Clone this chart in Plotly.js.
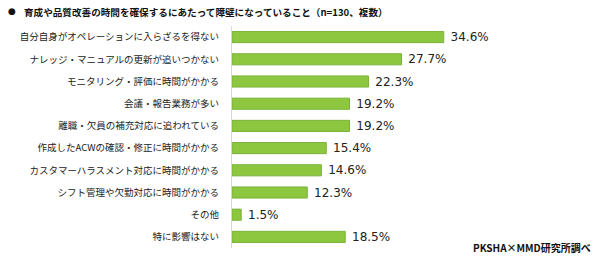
<!DOCTYPE html>
<html>
<head>
<meta charset="utf-8">
<script src="https://cdn.plot.ly/plotly-3.0.1.min.js"></script>
<style>
  html, body { margin: 0; padding: 0; background: #ffffff; }
  #chart { width: 600px; height: 262px; }
</style>
</head>
<body>
<div id="chart"></div>
<script>
// Reasons that get in the way of training / quality-improvement time (n=130, multiple answers)
const categories = [
  '自分自身がオペレーションに入らざるを得ない',
  'ナレッジ・マニュアルの更新が追いつかない',
  'モニタリング・評価に時間がかかる',
  '会議・報告業務が多い',
  '離職・欠員の補充対応に追われている',
  '作成したACWの確認・修正に時間がかかる',
  'カスタマーハラスメント対応に時間がかかる',
  'シフト管理や欠勤対応に時間がかかる',
  'その他',
  '特に影響はない'
];
const values = [34.6, 27.7, 22.3, 19.2, 19.2, 15.4, 14.6, 12.3, 1.5, 18.5];
const valueLabels = values.map(v => ' ' + v.toFixed(1) + '%');

const titleText = '育成や品質改善の時間を確保するにあたって障壁になっていること（n=130、複数）';
const sourceText = 'PKSHA×MMD研究所調べ';

const jpFont = '"Noto Sans CJK JP", "Noto Sans", sans-serif';

const trace = {
  type: 'bar',
  orientation: 'h',
  y: categories,
  x: values,
  width: 0.5,
  marker: { color: '#8dc63f', line: { color: '#7ab23a', width: 1 } },
  text: valueLabels,
  textposition: 'outside',
  constraintext: 'none',
  cliponaxis: false,
  textfont: { family: '"DejaVu Sans", sans-serif', size: 12, color: '#222222' },
  hoverinfo: 'none'
};

const layout = {
  width: 600,
  height: 262,
  margin: { l: 232, r: 62, t: 26, b: 14 },
  paper_bgcolor: '#ffffff',
  plot_bgcolor: '#ffffff',
  showlegend: false,
  bargap: 0.5,
  xaxis: {
    range: [0, 50],
    showgrid: false,
    zeroline: false,
    showticklabels: false,
    showline: false,
    fixedrange: true
  },
  yaxis: {
    autorange: 'reversed',
    type: 'category',
    showgrid: false,
    zeroline: false,
    showline: true,
    linecolor: '#d9d9d9',
    linewidth: 1,
    ticks: '',
    ticklabelstandoff: 10,
    tickfont: { family: jpFont, size: 9.5, color: '#222222' },
    fixedrange: true
  },
  annotations: [
    {
      text: '●',
      xref: 'paper', yref: 'paper',
      x: -232 / 306 + 6 / 306, y: 1, yshift: 15,
      xanchor: 'left', yanchor: 'middle',
      showarrow: false,
      font: { family: '"DejaVu Sans", sans-serif', size: 9, color: '#111111' }
    },
    {
      text: '<b>' + titleText + '</b>',
      xref: 'paper', yref: 'paper',
      x: -232 / 306 + 22 / 306, y: 1, yshift: 14,
      xanchor: 'left', yanchor: 'middle',
      showarrow: false,
      font: { family: jpFont, size: 9.6, color: '#111111' }
    },
    {
      text: '<b>' + sourceText + '</b>',
      xref: 'paper', yref: 'paper',
      x: 1 + 55 / 306, y: 0, yshift: 1,
      xanchor: 'right', yanchor: 'middle',
      showarrow: false,
      font: { family: jpFont, size: 10, color: '#111111' }
    }
  ]
};

Plotly.newPlot('chart', [trace], layout, { displayModeBar: false, staticPlot: true });
</script>
</body>
</html>
